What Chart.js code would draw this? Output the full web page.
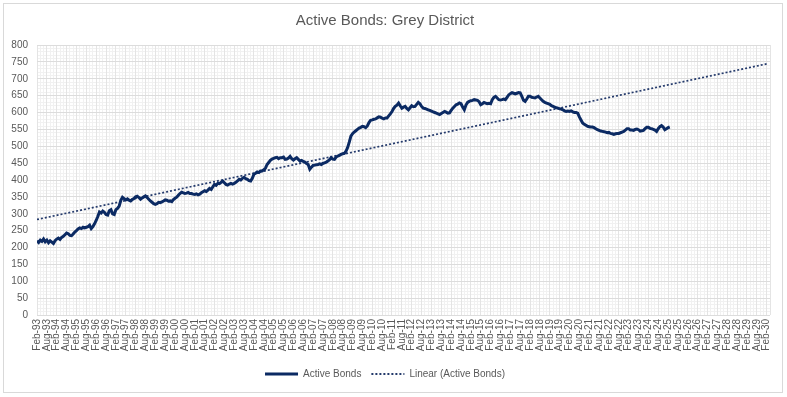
<!DOCTYPE html>
<html><head><meta charset="utf-8">
<script src="https://cdn.jsdelivr.net/npm/chart.js@4/dist/chart.umd.min.js"></script>
<style>html,body{margin:0;padding:0;background:#fff}#wrap{width:787px;height:397px;position:relative}</style>
</head><body><div id="wrap"><canvas id="c" width="787" height="397"></canvas></div>
<script>
const chartTitle = 'Active Bonds: Grey District';
const seriesName = 'Active Bonds';
const trendName = 'Linear (Active Bonds)';
const tickLabels = ['Feb-93','Aug-93','Feb-94','Aug-94','Feb-95','Aug-95','Feb-96','Aug-96','Feb-97','Aug-97','Feb-98','Aug-98','Feb-99','Aug-99','Feb-00','Aug-00','Feb-01','Aug-01','Feb-02','Aug-02','Feb-03','Aug-03','Feb-04','Aug-04','Feb-05','Aug-05','Feb-06','Aug-06','Feb-07','Aug-07','Feb-08','Aug-08','Feb-09','Aug-09','Feb-10','Aug-10','Feb-11','Aug-11','Feb-12','Aug-12','Feb-13','Aug-13','Feb-14','Aug-14','Feb-15','Aug-15','Feb-16','Aug-16','Feb-17','Aug-17','Feb-18','Aug-18','Feb-19','Aug-19','Feb-20','Aug-20','Feb-21','Aug-21','Feb-22','Aug-22','Feb-23','Aug-23','Feb-24','Aug-24','Feb-25','Aug-25','Feb-26','Aug-26','Feb-27','Aug-27','Feb-28','Aug-28','Feb-29','Aug-29','Feb-30'];
// monthly values, Feb-93 .. Mar-25
const activeBonds = [
 220,215,222,218,225,217,222,214,220,216,212,220,
 225,228,224,230,233,238,243,241,236,235,240,246,
 250,255,258,256,260,258,260,262,266,256,262,270,
 280,292,305,302,308,304,298,296,309,312,300,298,
 312,316,323,340,349,345,341,344,340,338,342,345,
 350,352,348,343,347,350,353,348,343,338,334,330,
 328,330,334,333,335,338,341,340,337,338,336,342,
 346,349,355,360,364,362,360,361,363,360,360,358,
 357,359,356,358,362,365,368,366,370,375,372,380,
 387,384,390,389,393,397,392,387,385,388,390,388,
 390,393,397,402,400,405,408,404,402,398,397,405,
 417,420,424,422,427,427,430,435,446,452,458,462,
 464,466,467,463,466,466,468,461,462,465,470,463,
 459,463,466,461,456,458,455,453,449,446,432,438,
 443,444,445,446,448,446,449,451,453,456,460,466,
 462,461,468,471,473,476,478,479,485,496,512,530,
 537,542,546,550,554,556,559,558,555,560,570,577,
 578,580,581,584,587,586,583,581,584,584,590,596,
 603,612,618,622,628,620,613,616,618,612,608,614,
 620,617,618,624,630,626,618,613,612,610,608,606,
 604,602,600,598,596,594,597,600,603,601,598,599,
 606,613,618,623,625,628,626,616,608,622,630,633,
 635,636,638,637,636,632,623,626,630,628,626,627,
 626,638,645,648,643,638,637,638,640,638,645,652,
 656,659,657,655,657,659,658,648,636,633,640,648,
 648,645,644,643,646,648,643,638,633,630,628,626,
 624,620,618,616,614,613,611,610,608,605,603,604,
 603,605,602,600,600,598,587,578,569,565,562,559,
 558,557,557,555,552,549,547,545,544,543,542,540,
 541,538,537,535,537,538,538,540,542,544,548,552,
 552,548,548,547,550,551,549,545,546,547,552,556,
 556,553,552,550,548,544,552,558,561,557,549,552,
 555,557
];
const trendMonths = [0, 444];
const trendValues = [283, 744];

const textColor = '#595959';
const borderPlugin = {
  id: 'frame',
  beforeDraw(chart) {
    const ctx = chart.ctx;
    ctx.save();
    ctx.fillStyle = '#fff';
    ctx.fillRect(0, 0, chart.width, chart.height);
    ctx.strokeStyle = '#d9d9d9';
    ctx.lineWidth = 1;
    ctx.strokeRect(3.5, 3.5, 779, 389);
    ctx.restore();
  }
};

new Chart(document.getElementById('c'), {
  type: 'line',
  data: {
    datasets: [
      {
        label: seriesName,
        data: activeBonds.map((v, i) => ({x: i, y: v})),
        borderColor: '#0b2a63',
        backgroundColor: '#0b2a63',
        borderWidth: 3,
        pointRadius: 0,
        pointStyle: 'line',
        tension: 0,
        xAxisID: 'x', yAxisID: 'y'
      },
      {
        label: trendName,
        data: trendMonths.map((m, i) => ({x: m, y: trendValues[i]})),
        borderColor: '#243a6b',
        backgroundColor: '#243a6b',
        borderWidth: 1.7,
        borderDash: [2, 2],
        pointRadius: 0,
        pointStyle: 'line',
        xAxisID: 'x', yAxisID: 'y'
      }
    ]
  },
  options: {
    responsive: false,
    animation: false,
    devicePixelRatio: 1,
    layout: {padding: {top: 0, right: 17, bottom: 8, left: 0}},
    plugins: {
      title: {
        display: true, text: chartTitle, color: textColor,
        font: {family: 'Liberation Sans', size: 15, weight: 'normal'},
        padding: {top: 12, bottom: 15}
      },
      legend: {
        position: 'bottom',
        labels: {
          usePointStyle: true, pointStyleWidth: 33, boxHeight: 10,
          color: textColor, padding: 10,
          font: {family: 'Liberation Sans', size: 10},
          generateLabels: chart => chart.data.datasets.map((d, i) => ({
            text: d.label,
            fillStyle: d.borderColor,
            strokeStyle: d.borderColor,
            fontColor: textColor,
            lineWidth: i === 0 ? 3 : 2,
            lineDash: i === 0 ? [] : [2, 2],
            lineCap: 'butt',
            pointStyle: 'line',
            hidden: false,
            datasetIndex: i
          }))
        }
      },
      tooltip: {enabled: false}
    },
    scales: {
      xm: {
        type: 'linear', position: 'bottom', min: 0, max: 446,
        ticks: {display: false, stepSize: 2, autoSkip: false},
        grid: {drawTicks: false, color: c => (c.tick && c.tick.value % 6 === 0) ? 'rgba(0,0,0,0)' : '#f1f1f1'},
        border: {display: false},
        afterFit: s => { s.height = 0; }
      },
      ym: {
        type: 'linear', position: 'left', min: 0, max: 800,
        ticks: {display: false, stepSize: 10},
        grid: {drawTicks: false, color: c => (c.tick && c.tick.value % 50 === 0) ? 'rgba(0,0,0,0)' : '#f1f1f1'},
        border: {display: false},
        afterFit: s => { s.width = 0; }
      },
      x: {
        type: 'linear', position: 'bottom', min: 0, max: 446,
        afterBuildTicks: s => { s.ticks = tickLabels.map((t, i) => ({value: i * 6})).concat([{value: 446}]); },
        ticks: {
          autoSkip: false, minRotation: 90, maxRotation: 90,
          color: textColor, padding: 4,
          font: {family: 'Liberation Sans', size: 10},
          callback: v => (v % 6 === 0 && tickLabels[v / 6]) ? tickLabels[v / 6] : ''
        },
        grid: {drawTicks: false, color: '#e4e4e4'},
        border: {display: false},
        afterFit: s => { s.height = 44; }
      },
      y: {
        type: 'linear', position: 'left', min: 0, max: 800,
        ticks: {stepSize: 50, color: textColor, padding: 9, font: {family: 'Liberation Sans', size: 10}},
        grid: {drawTicks: false, color: '#dcdcdc'},
        border: {display: false},
        afterFit: s => { s.width = 37; }
      }
    }
  },
  plugins: [borderPlugin]
});
</script>
</body></html>
